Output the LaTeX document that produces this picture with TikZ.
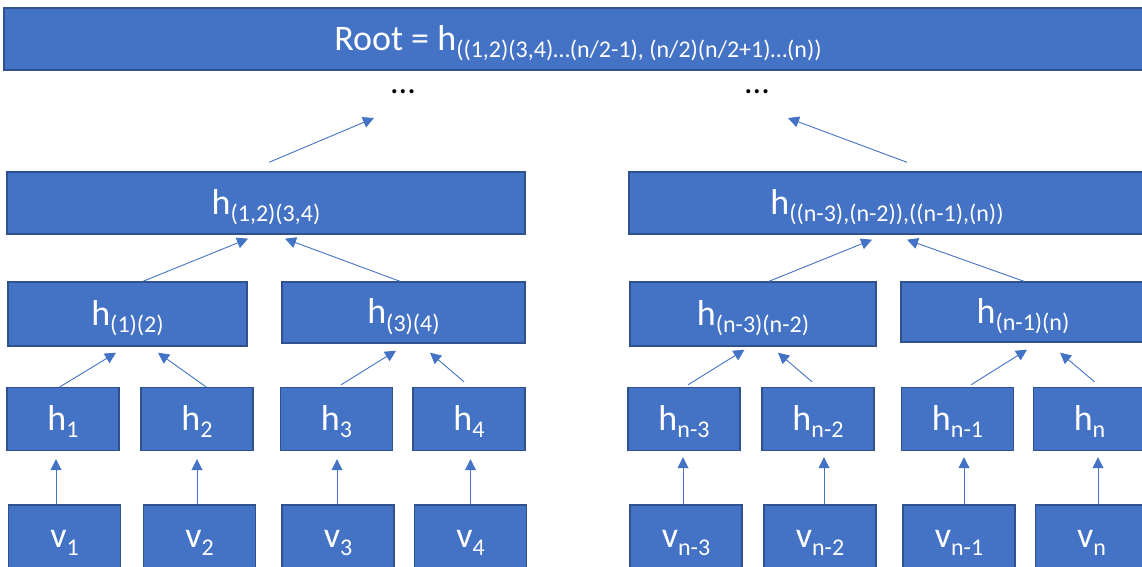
\documentclass[tikz,border=0pt]{standalone}
\usepackage{fontspec}
\setmainfont{Carlito}
\usetikzlibrary{arrows.meta}
\definecolor{boxblue}{HTML}{4472C4}
\definecolor{boxedge}{HTML}{2F528F}
\newcommand\lowsub[1]{\raisebox{-7.5pt}{\fontsize{24}{24}\selectfont #1}}
\tikzset{
  blk/.style={draw=boxedge, fill=boxblue, line width=1.4pt, text=white, inner sep=0pt,
    text height=28pt, text depth=6pt, font=\fontsize{36}{40}\selectfont},
  leaf/.style={blk, minimum width=112pt, minimum height=63pt},
  conn/.style={draw=boxblue, line width=0.9pt, -{Triangle[length=11pt,width=11pt]}},
  dotlbl/.style={text=black, inner sep=0pt, font=\fontsize{34}{36}\selectfont},
}
\begin{document}
\begin{tikzpicture}[x=1pt,y=-1pt]
\useasboundingbox (0,0) rectangle (1142,566);
% root
\node[blk, minimum width=1148pt, minimum height=62pt] (root) at (578,39)
  {Root = h\lowsub{((1,2)(3,4)…(n/2-1), (n/2)(n/2+1)…(n))}};
\node[dotlbl] (dotsL) at (403,92) {...};
\node[dotlbl] (dotsR) at (757,92) {...};
% level 3
\node[blk, minimum width=518pt, minimum height=62pt] (L3L) at (266,203) {h\lowsub{(1,2)(3,4)}};
\node[blk, minimum width=516pt, minimum height=62pt] (L3R) at (887,203) {h\lowsub{((n-3),(n-2)),((n-1),(n))}};
% level 2
\node[blk, minimum width=239pt, minimum height=64pt] (L2a) at (127.5,314) {h\lowsub{(1)(2)}};
\node[blk, minimum width=243pt, minimum height=61pt] (L2b) at (403.5,312.5) {h\lowsub{(3)(4)}};
\node[blk, minimum width=246pt, minimum height=64pt] (L2c) at (753,314) {h\lowsub{(n-3)(n-2)}};
\node[blk, minimum width=244pt, minimum height=60pt] (L2d) at (1023,312) {h\lowsub{(n-1)(n)}};
% level 1 (h)
\node[leaf] (h1) at (63,419) {h\lowsub{1}};
\node[leaf] (h2) at (197,419) {h\lowsub{2}};
\node[leaf] (h3) at (336.5,419) {h\lowsub{3}};
\node[leaf] (h4) at (469,419) {h\lowsub{4}};
\node[leaf] (hn3) at (684,419) {h\lowsub{n-3}};
\node[leaf] (hn2) at (818,419) {h\lowsub{n-2}};
\node[leaf] (hn1) at (957.5,419) {h\lowsub{n-1}};
\node[leaf] (hn) at (1089.5,419) {h\lowsub{n}};
% inputs (v)
\node[leaf] (v1) at (64.5,536.5) {v\lowsub{1}};
\node[leaf] (v2) at (199.5,536.5) {v\lowsub{2}};
\node[leaf] (v3) at (338,536.5) {v\lowsub{3}};
\node[leaf] (v4) at (470.5,536.5) {v\lowsub{4}};
\node[leaf] (vn3) at (686,536.5) {v\lowsub{n-3}};
\node[leaf] (vn2) at (820,536.5) {v\lowsub{n-2}};
\node[leaf] (vn1) at (959,536.5) {v\lowsub{n-1}};
\node[leaf] (vn) at (1091.5,536.5) {v\lowsub{n}};
% v -> h
\draw[conn] ([xshift=-8.5pt]v1.north) -- ([xshift=-7pt,yshift=-8pt]h1.south);
\draw[conn] ([xshift=-2.5pt]v2.north) -- ([xshift=0pt,yshift=-8pt]h2.south);
\draw[conn] ([xshift=-1pt]v3.north) -- ([xshift=0.5pt,yshift=-8pt]h3.south);
\draw[conn] ([xshift=0pt]v4.north) -- ([xshift=1.5pt,yshift=-8pt]h4.south);
\draw[conn] ([xshift=-3pt]vn3.north) -- ([xshift=-1pt,yshift=-6pt]hn3.south);
\draw[conn] ([xshift=4pt]vn2.north) -- ([xshift=6pt,yshift=-6pt]hn2.south);
\draw[conn] ([xshift=5pt]vn1.north) -- ([xshift=6.5pt,yshift=-6pt]hn1.south);
\draw[conn] ([xshift=6.5pt]vn.north) -- ([xshift=8.5pt,yshift=-6pt]hn.south);
% h -> level 2
\draw[conn] ([xshift=-3pt]h1.north) -- ([xshift=-11.5pt,yshift=-6pt]L2a.south);
\draw[conn] ([xshift=9pt]h2.north) -- ([xshift=30.5pt,yshift=-6pt]L2a.south);
\draw[conn] ([xshift=4.5pt,yshift=2pt]h3.north) -- ([xshift=-7.5pt,yshift=-7pt]L2b.south);
\draw[conn] ([xshift=-5pt,yshift=5pt]h4.north) -- ([xshift=26.5pt,yshift=-9pt]L2b.south);
\draw[conn] ([xshift=4pt,yshift=2pt]hn3.north) -- ([xshift=-8.5pt,yshift=-3pt]L2c.south);
\draw[conn] ([xshift=-6pt,yshift=5pt]hn2.north) -- ([xshift=25pt,yshift=-6pt]L2c.south);
\draw[conn] ([xshift=13.5pt,yshift=2pt]hn1.north) -- ([xshift=4pt,yshift=-7pt]L2d.south);
\draw[conn] ([xshift=5pt,yshift=5pt]hn.north) -- ([xshift=37pt,yshift=-10pt]L2d.south);
% level 2 -> level 3
\draw[conn] ([xshift=15.5pt]L2a.north) -- ([xshift=-18pt,yshift=-4pt]L3L.south);
\draw[conn] ([xshift=-3.5pt]L2b.north) -- ([xshift=19pt,yshift=-4pt]L3L.south);
\draw[conn] ([xshift=16pt]L2c.north) -- ([xshift=-15pt,yshift=-5pt]L3R.south);
\draw[conn] ([xshift=1pt]L2d.north) -- ([xshift=20pt,yshift=-5pt]L3R.south);
% level 3 -> dots
\draw[conn] ([xshift=3pt,yshift=9pt]L3L.north) -- ([xshift=-29pt,yshift=-26pt]dotsL.center);
\draw[conn] ([xshift=20pt,yshift=9pt]L3R.north) -- ([xshift=31pt,yshift=-26pt]dotsR.center);
\end{tikzpicture}
\end{document}
